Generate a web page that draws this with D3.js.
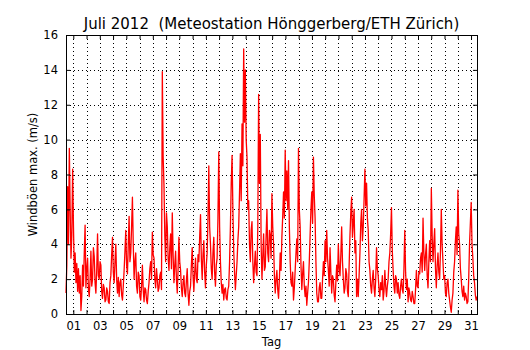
<!DOCTYPE html>
<html><head><meta charset="utf-8">
<script src="https://cdn.jsdelivr.net/npm/d3@7"></script>
<style>
body{margin:0;background:#fff;}
text{font-family:"DejaVu Sans",sans-serif;fill:#000;}
</style></head>
<body><svg id="c" width="530" height="350"></svg>
<script>
const title = "Juli 2012  (Meteostation Hönggerberg/ETH Zürich)";
const xLabel = "Tag";
const yLabel = "Windböen max. (m/s)";
const dayTicks = d3.range(1, 32);
const dayLabels = ["01","","03","","05","","07","","09","","11","","13","","15","","17","","19","","21","","23","","25","","27","","29","","31"];
const yTicks = [0,2,4,6,8,10,12,14,16];
const startDay = 0.45, endDay = 31.45;
// wind gust maxima (m/s), 16 readings per day
const gusts = [
 1.2,2.8,7.3,4.0,9.5,6.0,3.2,4.5,8.3,5.0,2.4,3.5,1.8,2.9,1.3,2.6,
 1.2,2.2,0.2,1.0,2.8,1.6,3.5,5.1,1.5,2.6,3.2,1.4,1.0,2.0,3.6,1.6,
 2.0,3.8,3.3,1.8,1.2,2.5,4.6,2.2,2.0,3.0,2.8,1.3,0.9,1.7,1.5,0.7,
 0.8,1.5,1.3,0.7,0.6,1.8,2.2,3.4,4.4,2.4,1.8,3.0,4.0,2.0,1.2,2.1,
 1.0,1.8,2.0,1.1,0.8,1.6,2.5,3.6,4.8,2.8,2.3,4.0,5.6,3.0,3.5,5.0,
 6.7,4.0,2.0,3.0,3.5,1.6,1.2,2.4,2.2,1.0,0.8,1.6,2.8,1.4,0.7,1.5,
 1.4,0.8,0.6,1.3,1.8,2.6,3.0,2.0,4.7,3.4,3.2,2.0,1.5,2.6,2.0,1.3,
 1.5,2.2,2.4,1.4,13.9,9.0,7.4,4.5,3.0,5.8,5.0,3.2,2.5,3.8,4.6,2.6,
 5.8,3.4,1.8,2.8,3.6,2.0,1.2,2.6,4.4,3.0,2.5,1.5,1.0,1.8,2.2,1.2,
 1.0,1.9,2.6,1.2,0.5,1.3,1.6,2.8,3.8,2.2,1.3,2.4,3.2,2.0,1.8,3.4,
 3.0,4.4,5.7,3.2,2.0,3.4,4.2,2.4,1.5,2.8,3.5,5.5,8.5,5.0,4.0,2.6,
 2.0,3.5,4.4,2.4,1.6,2.8,3.2,5.5,9.3,5.0,3.0,1.8,1.2,1.7,0.8,1.4,
 1.5,0.9,0.8,1.4,1.6,3.0,5.0,7.5,9.1,6.0,3.6,2.4,1.4,2.2,3.0,4.2,
 5.0,7.0,9.2,6.5,10.9,8.5,15.2,11.0,14.0,10.0,9.0,6.0,6.5,4.0,3.0,4.8,
 5.3,3.0,1.8,2.8,3.6,2.4,2.2,5.0,12.6,7.5,10.3,4.0,2.0,3.3,4.6,2.5,
 2.7,4.5,6.0,3.5,3.0,4.8,4.5,3.2,6.9,5.0,4.0,2.2,1.2,2.0,2.5,1.4,
 0.9,2.0,3.5,2.5,4.4,5.6,7.0,5.5,9.4,6.5,8.2,6.0,8.8,5.0,3.0,1.8,
 1.6,2.4,0.8,1.5,2.5,3.5,4.3,3.0,9.5,6.0,5.0,2.8,1.4,2.3,3.0,1.6,
 1.0,1.6,0.5,1.2,1.8,3.0,4.5,6.0,7.0,5.2,9.0,6.8,5.5,3.0,1.2,0.7,
 0.7,1.5,1.8,0.9,0.9,2.0,3.0,2.2,4.2,3.0,4.8,3.2,2.5,1.6,3.8,2.4,
 1.2,2.2,2.0,1.1,0.7,1.8,2.8,1.9,4.0,2.6,2.2,3.4,5.0,3.0,2.0,1.2,
 1.5,2.6,2.3,1.3,1.0,2.8,4.5,5.8,6.7,4.4,5.2,6.0,3.5,4.2,1.0,2.0,
 1.0,2.2,3.5,5.2,6.0,4.2,5.0,6.6,8.3,6.2,7.5,5.5,4.8,3.0,2.5,1.6,
 1.2,2.0,2.5,1.5,1.0,2.0,3.8,2.6,2.2,1.4,1.0,1.8,1.4,2.2,0.8,1.3,
 2.5,1.6,1.0,1.6,2.0,3.0,3.5,4.6,6.1,3.6,2.5,1.6,1.2,2.2,2.0,1.2,
 1.8,1.1,0.9,1.6,2.0,1.4,1.2,2.6,4.8,2.4,1.4,2.0,0.7,1.5,1.2,0.8,
 0.7,1.3,1.0,0.6,0.6,1.4,2.5,1.6,1.5,2.4,2.3,3.2,3.5,2.4,5.5,3.5,
 2.5,3.4,4.0,2.2,1.5,3.0,4.2,3.0,7.2,4.5,3.0,4.0,4.9,2.6,1.5,2.8,
 3.5,2.4,2.0,3.6,6.0,4.0,3.0,2.0,2.2,1.2,1.0,1.8,2.0,1.2,0.8,0.4,
 0.1,0.8,1.2,2.4,3.0,4.2,5.0,3.4,7.1,4.6,4.0,2.6,2.0,1.3,1.0,1.6,
 0.8,1.2,1.0,0.6,0.7,2.0,4.0,5.2,6.4,4.0,3.2,2.2,1.8,1.1,0.8,1.0
];

const svg = d3.select("#c");
const L=66, R=477, T=35, B=314;
const x = d3.scaleLinear().domain([startDay, endDay]).range([L, R]);
const y = d3.scaleLinear().domain([0,16]).range([B, T]);
const step = (endDay - startDay) / (gusts.length - 1);
const data = gusts.map((v,i)=>({t:startDay + i*step, v}));

// grid
const g = svg.append("g");
g.selectAll("line.vg").data(dayTicks).join("line")
  .attr("x1",d=>Math.round(x(d))+0.5).attr("x2",d=>Math.round(x(d))+0.5).attr("y1",T).attr("y2",B)
  .attr("stroke","#000").attr("stroke-width",1).attr("stroke-dasharray","1,3");
g.selectAll("line.hg").data(yTicks).join("line")
  .attr("y1",d=>Math.round(y(d))+0.5).attr("y2",d=>Math.round(y(d))+0.5).attr("x1",L).attr("x2",R)
  .attr("stroke","#000").attr("stroke-width",1).attr("stroke-dasharray","1,3");

// line
svg.append("path").datum(data)
  .attr("fill","none").attr("stroke","#ff0000").attr("stroke-width",1.3).attr("stroke-linejoin","round")
  .attr("d", d3.line().x(d=>x(d.t)).y(d=>y(d.v)));

// axes
const xb = d3.axisBottom(x).tickValues(dayTicks).tickFormat((d,i)=>dayLabels[i]).tickSizeInner(-4).tickSizeOuter(0).tickPadding(8);
const xt = d3.axisTop(x).tickValues(dayTicks).tickFormat("").tickSizeInner(-4).tickSizeOuter(0);
const yl = d3.axisLeft(y).tickValues(yTicks).tickSizeInner(-4).tickSizeOuter(0).tickPadding(8);
const yr = d3.axisRight(y).tickValues(yTicks).tickFormat("").tickSizeInner(-4).tickSizeOuter(0);
[[xb,`translate(0,${B})`],[xt,`translate(0,${T})`],[yl,`translate(${L},0)`],[yr,`translate(${R},0)`]].forEach(([a,tr])=>{
  const ag = svg.append("g").attr("transform",tr).call(a);
  ag.select(".domain").remove();
  ag.selectAll("text").style("font-size","11.5px").style("font-family","DejaVu Sans");
  ag.selectAll("line").attr("stroke","#000");
});
svg.append("rect").attr("x",L+0.5).attr("y",T+0.5).attr("width",R-L).attr("height",B-T)
  .attr("fill","none").attr("stroke","#000").attr("stroke-width",1);

svg.append("text").attr("x",(L+R)/2).attr("y",29).attr("text-anchor","middle")
  .style("font-size","15px").style("white-space","pre").text(title);
svg.append("text").attr("x",(L+R)/2).attr("y",346).attr("text-anchor","middle").style("font-size","11.5px").text(xLabel);
svg.append("text").attr("transform",`translate(37,${(T+B)/2}) rotate(-90)`).attr("text-anchor","middle").style("font-size","11.5px").text(yLabel);
</script></body></html>
